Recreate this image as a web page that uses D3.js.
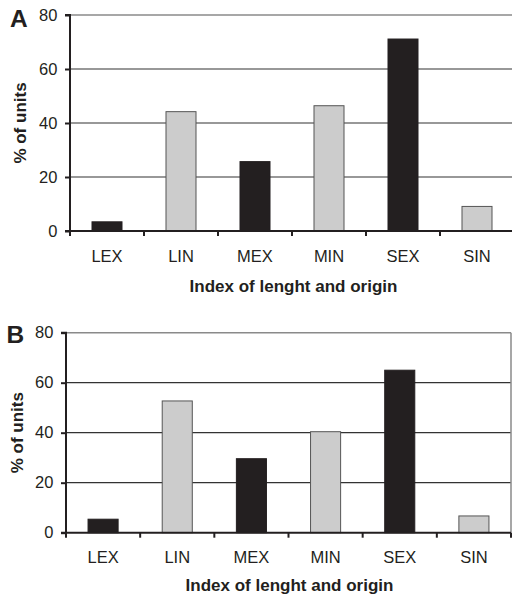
<!DOCTYPE html>
<html><head><meta charset="utf-8">
<script src="https://cdn.jsdelivr.net/npm/d3@7"></script>
<style>
body{margin:0;background:#fff;}
svg{display:block;font-family:"Liberation Sans",Arial,sans-serif;}
</style></head>
<body>
<svg id="chart" width="512" height="597"></svg>
<script>
const categories = ["LEX","LIN","MEX","MIN","SEX","SIN"];
const valuesA = [3.4, 44.2, 25.7, 46.4, 71.1, 9.1];
const valuesB = [5.4, 52.7, 29.6, 40.4, 65.0, 6.7];
const barKinds = ["dark","light","dark","light","dark","light"];
const yTicks = [0,20,40,60,80];
const panelLabels = ["A","B"];
const xTitle = "Index of lenght and origin";
const yTitle = "% of units";

const panels = [
  {label:panelLabels[0], values:valuesA, left:70, right:514, top:15, bottom:231, lx:10, ly:26.7, ytx:26, xlabBase:262, xtitleBase:291.7, xtitleCx:293.5, frame:false},
  {label:panelLabels[1], values:valuesB, left:66, right:511, top:332.7, bottom:532.7, lx:6.5, ly:342.7, ytx:23, xlabBase:563, xtitleBase:591, xtitleCx:289.5, frame:true}
];

const svg = d3.select("#chart");
const pad = 44/74;

panels.forEach(p => {
  const g = svg.append("g");
  const x = d3.scaleBand().domain(categories).range([p.left, p.right]).paddingInner(pad).paddingOuter(pad/2);
  const y = d3.scaleLinear().domain([0,80]).range([p.bottom, p.top]);

  // gridlines
  g.selectAll("line.grid").data(yTicks.filter(t=>t>0)).join("line")
    .attr("x1", p.left).attr("x2", p.right)
    .attr("y1", d=>y(d)).attr("y2", d=>y(d))
    .attr("stroke", d=> d===80 ? "#8a8a8a" : "#333")
    .attr("stroke-width", d=> d===80 ? 1.5 : 1.2);

  if (p.frame) {
    g.append("line").attr("x1", p.right).attr("x2", p.right).attr("y1", y(80)).attr("y2", y(0))
      .attr("stroke","#8a8a8a").attr("stroke-width",1.5);
  }

  // bars
  g.selectAll("rect.bar").data(categories).join("rect")
    .attr("x", d=>x(d)).attr("width", x.bandwidth())
    .attr("y", (d,i)=>y(p.values[i])).attr("height", (d,i)=>y(0)-y(p.values[i]))
    .attr("fill", (d,i)=> barKinds[i]==="dark" ? "#231f20" : "#cccccc")
    .attr("stroke", (d,i)=> barKinds[i]==="dark" ? "#231f20" : "#555")
    .attr("stroke-width", 1);

  // y axis
  const yAxis = d3.axisLeft(y).tickValues(yTicks).tickSize(5).tickPadding(7.7);
  const ya = g.append("g").attr("transform", `translate(${p.left},0)`).call(yAxis);
  ya.select(".domain").attr("stroke","#231f20").attr("stroke-width",2).attr("d", `M-5,${y(80)}H0V${y(0)}`);
  ya.selectAll(".tick line").attr("stroke","#231f20").attr("stroke-width",2);
  ya.selectAll(".tick text").attr("font-size",16.5).attr("fill","#231f20").attr("font-family","Liberation Sans, Arial, sans-serif");

  // x axis baseline & ticks at band boundaries
  g.append("line").attr("x1", p.left-5).attr("x2", p.right).attr("y1", y(0)).attr("y2", y(0))
    .attr("stroke","#231f20").attr("stroke-width",2);
  const bounds = d3.range(categories.length+1).map(i => p.left + i*x.step());
  g.selectAll("line.xt").data(bounds).join("line")
    .attr("x1", d=>d).attr("x2", d=>d).attr("y1", y(0)).attr("y2", y(0)+5)
    .attr("stroke","#231f20").attr("stroke-width",2);

  g.selectAll("text.cat").data(categories).join("text")
    .attr("x", d=>x(d)+x.bandwidth()/2).attr("y", p.xlabBase)
    .attr("text-anchor","middle").attr("font-size",16.5).attr("fill","#231f20").text(d=>d);

  g.append("text").attr("x", p.xtitleCx).attr("y", p.xtitleBase).attr("text-anchor","middle")
    .attr("font-size",17).attr("font-weight","bold").attr("fill","#231f20").text(xTitle);

  g.append("text").attr("transform", `translate(${p.ytx},${(y(0)+y(80))/2}) rotate(-90)`)
    .attr("text-anchor","middle").attr("font-size",17).attr("font-weight","bold").attr("fill","#231f20").text(yTitle);

  g.append("text").attr("x", p.lx).attr("y", p.ly).attr("font-size",24.5).attr("font-weight","bold")
    .attr("fill","#231f20").text(p.label);
});
</script>
</body></html>
